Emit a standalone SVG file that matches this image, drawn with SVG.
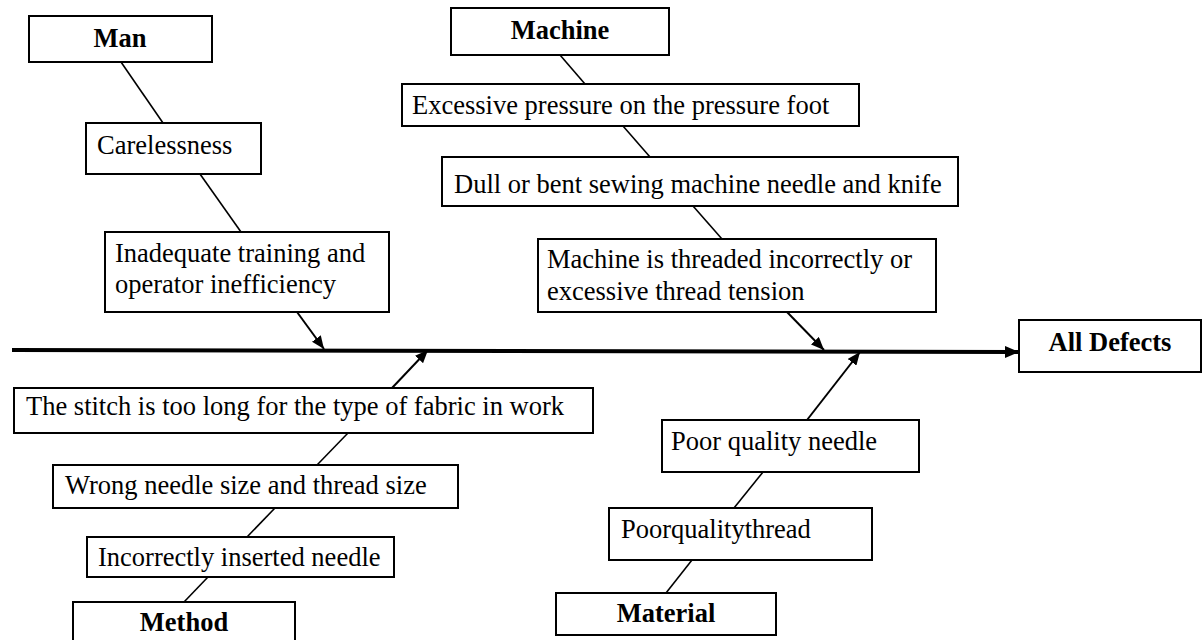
<svg xmlns="http://www.w3.org/2000/svg" width="1204" height="640" viewBox="0 0 1204 640">
<style>
.box{fill:#fff;stroke:#000;stroke-width:2}
.t{font-family:"Liberation Serif","Times New Roman",serif;font-size:26.5px;fill:#000}
.h{font-family:"Liberation Serif","Times New Roman",serif;font-size:26.5px;font-weight:bold;fill:#000;text-anchor:middle}
.ln{stroke:#000;stroke-width:1.6;fill:none}
.ar{stroke:#000;stroke-width:2;fill:none}
</style>
<defs>
<marker id="ah" viewBox="0 0 13 11" refX="13" refY="5.5" markerWidth="13" markerHeight="11" markerUnits="userSpaceOnUse" orient="auto"><path d="M0,0 L13,5.5 L0,11 z" fill="#000"/></marker>
<marker id="ahs" viewBox="0 0 14 12" refX="14" refY="6" markerWidth="14" markerHeight="12" markerUnits="userSpaceOnUse" orient="auto"><path d="M0,0 L14,6 L0,12 z" fill="#000"/></marker>
</defs>
<rect width="1204" height="640" fill="#fff"/>
<g id="connectors">
<line x1="12" y1="350" x2="1019" y2="352" stroke="#000" stroke-width="4" marker-end="url(#ahs)"/>
<line class="ln" x1="121" y1="62" x2="163" y2="123"/>
<line class="ln" x1="200" y1="174" x2="241" y2="232"/>
<line class="ar" x1="297" y1="312" x2="324" y2="349" marker-end="url(#ah)"/>
<line class="ln" x1="560" y1="55" x2="585" y2="84"/>
<line class="ln" x1="623" y1="126" x2="650" y2="157"/>
<line class="ln" x1="693" y1="206" x2="722" y2="239"/>
<line class="ar" x1="787" y1="312" x2="824" y2="350" marker-end="url(#ah)"/>
<line class="ar" x1="392" y1="388" x2="428" y2="350" marker-end="url(#ah)"/>
<line class="ln" x1="348" y1="433" x2="317" y2="465"/>
<line class="ln" x1="275" y1="508" x2="247" y2="537"/>
<line class="ln" x1="208" y1="577" x2="184" y2="602"/>
<line class="ar" x1="807" y1="420" x2="860" y2="352" marker-end="url(#ah)"/>
<line class="ln" x1="763" y1="472" x2="734" y2="508"/>
<line class="ln" x1="692" y1="560" x2="666" y2="593"/>
</g>
<g id="man"><rect class="box" x="29" y="16" width="183" height="46"/><text class="h" x="120" y="47">Man</text></g>
<g id="carelessness"><rect class="box" x="86" y="123" width="175" height="51"/><text class="t" x="97" y="154">Carelessness</text></g>
<g id="training"><rect class="box" x="105" y="232" width="284" height="80"/><text class="t" x="115" y="262">Inadequate training and</text><text class="t" x="115" y="293">operator inefficiency</text></g>
<g id="machine"><rect class="box" x="451" y="8" width="218" height="47"/><text class="h" x="560" y="39">Machine</text></g>
<g id="pressure"><rect class="box" x="402" y="84" width="457" height="42"/><text class="t" x="412" y="114">Excessive pressure on the pressure foot</text></g>
<g id="dull"><rect class="box" x="442" y="157" width="516" height="49"/><text class="t" x="454" y="193">Dull or bent sewing machine needle and knife</text></g>
<g id="threaded"><rect class="box" x="538" y="239" width="398" height="73"/><text class="t" x="547" y="268">Machine is threaded incorrectly or</text><text class="t" x="547" y="300">excessive thread tension</text></g>
<g id="all-defects"><rect class="box" x="1019" y="320" width="182" height="52"/><text class="h" x="1110" y="351">All Defects</text></g>
<g id="stitch"><rect class="box" x="14" y="388" width="579" height="45"/><text class="t" x="26" y="415">The stitch is too long for the type of fabric in work</text></g>
<g id="wrong-needle"><rect class="box" x="53" y="465" width="405" height="43"/><text class="t" x="65" y="494">Wrong needle size and thread size</text></g>
<g id="inserted"><rect class="box" x="87" y="537" width="307" height="40"/><text class="t" x="98" y="566">Incorrectly inserted needle</text></g>
<g id="method"><rect class="box" x="73" y="602" width="222" height="45"/><text class="h" x="184" y="631">Method</text></g>
<g id="poor-needle"><rect class="box" x="662" y="420" width="257" height="52"/><text class="t" x="671" y="450">Poor quality needle</text></g>
<g id="poor-thread"><rect class="box" x="609" y="508" width="263" height="52"/><text class="t" x="621" y="538">Poorqualitythread</text></g>
<g id="material"><rect class="box" x="556" y="593" width="220" height="42"/><text class="h" x="666" y="622">Material</text></g>
</svg>
